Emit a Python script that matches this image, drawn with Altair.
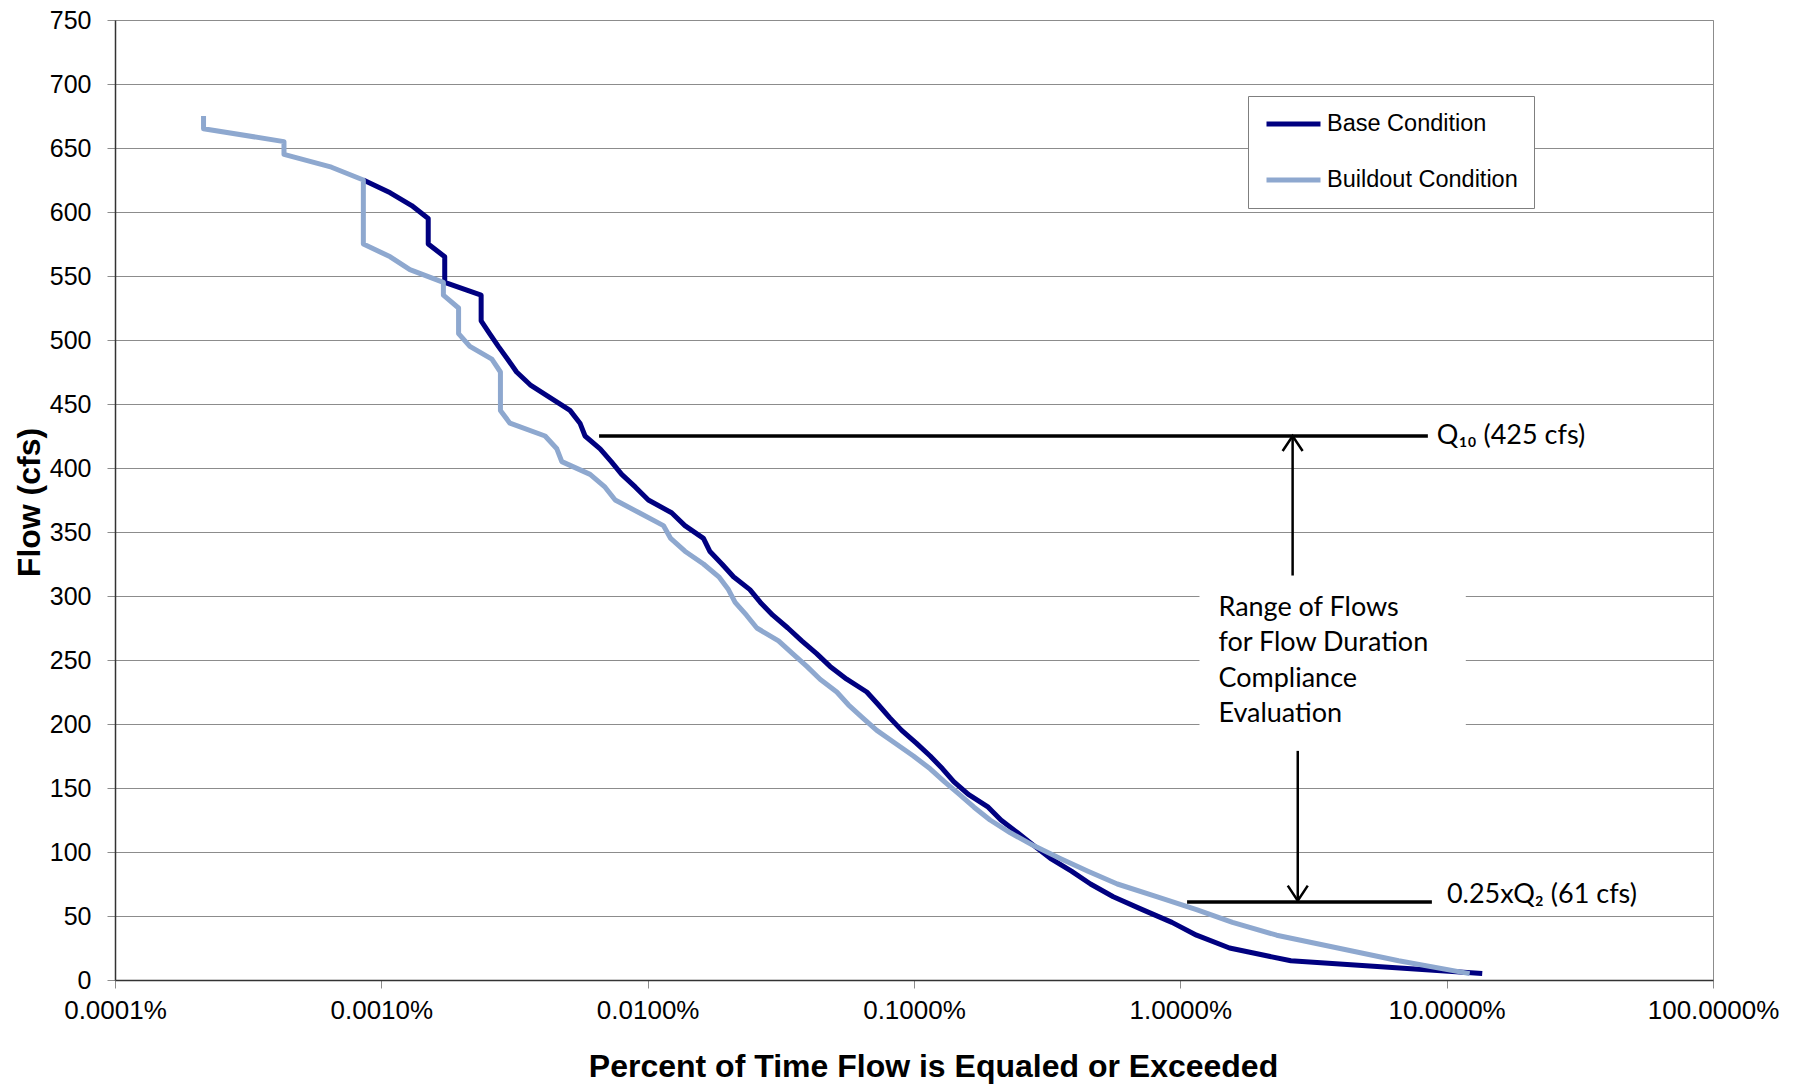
import altair as alt
import pandas as pd

# ---------------- data ----------------
series_names = ["Base Condition", "Buildout Condition"]
series_colors = ["#000080", "#8EA8CF"]

base_pct = [8.56e-4, 1.08e-3, 1.30e-3, 1.50e-3, 1.50e-3, 1.73e-3, 1.73e-3, 2.37e-3, 2.37e-3, 2.55e-3,
            2.75e-3, 2.98e-3, 3.22e-3, 3.62e-3, 4.30e-3, 5.11e-3, 5.57e-3, 5.82e-3, 6.63e-3, 7.30e-3,
            7.99e-3, 9.00e-3, 1.006e-2, 1.23e-2, 1.38e-2, 1.62e-2, 1.71e-2, 1.90e-2, 2.10e-2, 2.42e-2,
            2.65e-2, 2.95e-2, 3.36e-2, 3.79e-2, 4.31e-2, 4.84e-2, 5.59e-2, 6.65e-2, 7.35e-2, 8.10e-2,
            8.99e-2, 0.102, 0.115, 0.128, 0.141, 0.160, 0.190, 0.212, 0.245, 0.282,
            0.325, 0.390, 0.460, 0.560, 0.720, 0.930, 1.15, 1.53, 2.60, 13.6]
base_flow = [625, 615, 605, 595, 575, 565, 545, 535, 515, 505,
             495, 485, 475, 465, 455, 445, 435, 425, 415, 405,
             395, 385, 375, 365, 355, 345, 335, 325, 315, 305,
             295, 285, 275, 265, 255, 245, 235, 225, 215, 205,
             195, 185, 175, 165, 155, 145, 135, 125, 115, 105,
             95, 85, 75, 65, 55, 45, 35, 25, 15, 5]

build_pct = [2.15e-4, 2.15e-4, 4.31e-4, 4.31e-4, 6.50e-4, 8.56e-4, 8.56e-4, 1.08e-3, 1.28e-3, 1.71e-3,
             1.71e-3, 1.95e-3, 1.95e-3, 2.15e-3, 2.60e-3, 2.80e-3, 2.80e-3, 3.04e-3, 4.12e-3, 4.56e-3,
             4.76e-3, 6.08e-3, 6.92e-3, 7.55e-3, 9.30e-3, 1.146e-2, 1.22e-2, 1.38e-2, 1.62e-2, 1.85e-2,
             2.01e-2, 2.13e-2, 2.35e-2, 2.57e-2, 3.10e-2, 3.50e-2, 3.96e-2, 4.44e-2, 5.13e-2, 5.67e-2,
             6.40e-2, 7.25e-2, 8.50e-2, 9.95e-2, 0.115, 0.130, 0.148, 0.168, 0.193, 0.230,
             0.281, 0.354, 0.450, 0.580, 0.820, 1.15, 1.57, 2.30, 3.90, 6.60, 12.2]
build_flow = [675, 665, 655, 645, 635, 625, 575, 565, 555, 545,
              535, 525, 505, 495, 485, 475, 445, 435, 425, 415,
              405, 395, 385, 375, 365, 355, 345, 335, 325, 315,
              305, 295, 285, 275, 265, 255, 245, 235, 225, 215,
              205, 195, 185, 175, 165, 155, 145, 135, 125, 115,
              105, 95, 85, 75, 65, 55, 45, 35, 25, 15, 5]

x_ticks = [0.0001, 0.001, 0.01, 0.1, 1, 10, 100]
y_ticks = list(range(0, 751, 50))

# reference flow levels (Q10 and 0.25xQ2)
ref_names = ["Q10", "Q2"]
ref_flow = [425, 61]
ref_start = [0.00657, 1.06]
ref_end = [8.5, 8.8]
ref_label = ["Q\u2081\u2080 (425 cfs)", "0.25xQ\u2082 (61 cfs)"]

# arrows of the range annotation
arrow_names = ["up", "down"]
arrow_x = [2.64, 2.76]
arrow_from = [316, 179]
arrow_to = [425, 62]

# range text and its white backing box
range_text = "Range of Flows\nfor Flow Duration\nCompliance\nEvaluation"
range_x = 1.39
range_y = 291
box_x = [1.18, 11.8]
box_y = [183, 312]

# ---------------- tables ----------------
base_df = pd.DataFrame({"pct": base_pct, "flow": base_flow, "series": series_names[0],
                        "idx": range(len(base_pct))})
build_df = pd.DataFrame({"pct": build_pct, "flow": build_flow, "series": series_names[1],
                         "idx": range(len(build_pct))})
ref_df = pd.DataFrame({"name": ref_names, "flow": ref_flow, "pct": ref_start, "pct2": ref_end,
                       "label": ref_label})
arrow_df = pd.DataFrame({"name": arrow_names, "pct": arrow_x, "flow": arrow_to, "flow2": arrow_from})
box_df = pd.DataFrame({"pct": [box_x[0]], "pct2": [box_x[1]], "flow": [box_y[0]], "flow2": [box_y[1]]})
text_df = pd.DataFrame({"pct": [range_x], "flow": [range_y], "label": [range_text]})

AX_FONT = "Liberation Sans"
ANN_FONT = "Lato"

x_scale = alt.Scale(type="log", domain=[0.0001, 100], nice=False)
y_scale = alt.Scale(domain=[0, 750], nice=False, zero=True)

x_axis = alt.Axis(values=x_ticks, labelExpr="format(datum.value, '.4f') + '%'",
                  title="Percent of Time Flow is Equaled or Exceeded",
                  grid=False, tickSize=8, tickColor="#8c8c8c", tickWidth=1,
                  domainColor="#333333", domainWidth=1.5,
                  labelFont=AX_FONT, labelFontSize=26, labelColor="black", labelPadding=9,
                  labelFlush=False, labelOverlap=False,
                  titleFont=AX_FONT, titleFontSize=32, titleFontWeight="bold", titleColor="black",
                  titleX=818, titleY=86, titleBaseline="middle", titleAlign="center")
y_axis = alt.Axis(values=y_ticks, title="Flow (cfs)",
                  grid=True, gridColor="#8c8c8c", gridWidth=1,
                  tickSize=8, tickColor="#8c8c8c", tickWidth=1,
                  domainColor="#333333", domainWidth=1.5,
                  labelFont=AX_FONT, labelFontSize=25, labelColor="black", labelPadding=16,
                  labelFlush=False, labelOverlap=False,
                  titleFont=AX_FONT, titleFontSize=32, titleFontWeight="bold", titleColor="black",
                  titleX=-86, titleY=482, titleAngle=270, titleBaseline="middle", titleAlign="center")


def X(field="pct"):
    return alt.X(f"{field}:Q", scale=x_scale, axis=x_axis, title="Percent of Time Flow is Equaled or Exceeded")


def Y(field="flow"):
    return alt.Y(f"{field}:Q", scale=y_scale, axis=y_axis, title="Flow (cfs)")


legend = alt.Legend(title=None, orient="none", legendX=1133, legendY=76, direction="vertical",
                    symbolType="stroke", symbolSize=2916, symbolStrokeWidth=5,
                    labelFont=AX_FONT, labelFontSize=23.5, labelColor="black", labelOffset=4,
                    labelLimit=600,
                    padding=16, rowPadding=32, clipHeight=24,
                    strokeColor="#7f7f7f", fillColor="white")
color = alt.Color("series:N", scale=alt.Scale(domain=series_names, range=series_colors), legend=legend)

base_line = alt.Chart(base_df).mark_line(strokeWidth=5, strokeJoin="round", strokeCap="butt").encode(
    x=X(), y=Y(), color=color, order="idx:Q")
build_line = alt.Chart(build_df).mark_line(strokeWidth=5, strokeJoin="round", strokeCap="butt").encode(
    x=X(), y=Y(), color=color, order="idx:Q")

box = alt.Chart(box_df).mark_rect(color="white", opacity=1).encode(
    x=X(), x2="pct2:Q", y=Y(), y2="flow2:Q")

ref_rules = alt.Chart(ref_df).mark_rule(color="black", strokeWidth=3.5).encode(
    x=X(), x2="pct2:Q", y=Y())

ref_q10 = alt.Chart(ref_df).transform_filter("datum.name == 'Q10'").mark_text(
    align="left", baseline="middle", dx=9, dy=0, font=ANN_FONT, fontSize=27, color="black").encode(
    x=X("pct2"), y=Y(), text="label:N")
ref_q2 = alt.Chart(ref_df).transform_filter("datum.name == 'Q2'").mark_text(
    align="left", baseline="middle", dx=15, dy=-7, font=ANN_FONT, fontSize=27, color="black").encode(
    x=X("pct2"), y=Y(), text="label:N")

arrow_lines = alt.Chart(arrow_df).mark_rule(color="black", strokeWidth=2.5).encode(
    x=X(), y=Y(), y2="flow2:Q")
head_up = alt.Chart(arrow_df).transform_filter("datum.name == 'up'").mark_point(
    shape="M-1,1.5L0,0L1,1.5", filled=False, size=400, strokeWidth=2.5, color="black", opacity=1).encode(
    x=X(), y=Y())
head_down = alt.Chart(arrow_df).transform_filter("datum.name == 'down'").mark_point(
    shape="M-1,-1.5L0,0L1,-1.5", filled=False, size=400, strokeWidth=2.5, color="black", opacity=1).encode(
    x=X(), y=Y())

range_label = alt.Chart(text_df).mark_text(
    align="left", baseline="middle", lineBreak="\n", lineHeight=35.5,
    font=ANN_FONT, fontSize=27, color="black").encode(x=X(), y=Y(), text="label:N")

chart = alt.layer(
    box, base_line, build_line, ref_rules, arrow_lines, head_up, head_down,
    ref_q10, ref_q2, range_label
).properties(
    width=1598, height=960,
    autosize=alt.AutoSizeParams(type="none"),
    padding={"left": 115, "top": 20, "right": 90, "bottom": 106},
    background="white",
).configure_view(stroke="#8c8c8c", strokeWidth=1)

chart.save("out.html", embed_options={"renderer": "svg", "actions": False})
